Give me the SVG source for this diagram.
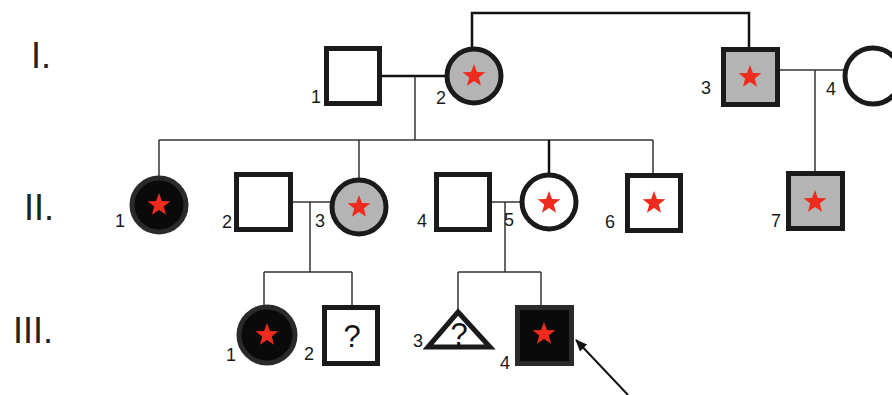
<svg xmlns="http://www.w3.org/2000/svg" xmlns:xlink="http://www.w3.org/1999/xlink" width="892" height="395" viewBox="0 0 892 395">
<style>
.node{stroke:#1a1a1a;stroke-width:5}
.white{fill:#fff}
.grey{fill:#b4b4b4}
.black{fill:#0a0a0a;stroke:#2a2a2a}
.star{fill:#ee2b1c}
.lbl{font-family:"Liberation Sans",Arial,sans-serif;font-size:18px;fill:#1a1a1a}
.gen{font-family:"Liberation Sans",Arial,sans-serif;font-size:36px;fill:#222}
.q{font-family:"Liberation Sans",Arial,sans-serif;font-size:31px;fill:#111;text-anchor:middle}
.ln{fill:none;stroke:#333;stroke-width:1.5}
.lnb{fill:none;stroke:#111;stroke-width:2.5}
</style>
<defs>
<path id="star" d="M0,-12 L2.94,-4.05 L11.41,-3.71 L4.77,1.55 L7.05,9.71 L0,5 L-7.05,9.71 L-4.77,1.55 L-11.41,-3.71 L-2.94,-4.05 Z"/>
<marker id="arr" markerWidth="12" markerHeight="10" refX="11" refY="5" orient="auto" markerUnits="userSpaceOnUse">
<path d="M0,0 L12,5 L0,10 Z" fill="#111"/>
</marker>
</defs>
<rect width="892" height="395" fill="#fff"/>
<g id="generations">
<text class="gen" x="31" y="68">I.</text>
<text class="gen" x="24" y="220">II.</text>
<text class="gen" x="13" y="343">III.</text>
</g>
<g id="connectors">
<path class="lnb" d="M472,48 V13 H749 V48"/>
<path class="lnb" d="M382,76 H446"/>
<path class="ln" d="M415,76 V140"/>
<path class="ln" d="M159,140 H653"/>
<path class="ln" d="M159,140 V176"/>
<path class="ln" d="M359,140 V178"/>
<path class="lnb" d="M549,140 V173"/>
<path class="ln" d="M653,140 V173"/>
<path class="ln" d="M780,70 H844"/>
<path class="ln" d="M815,70 V172"/>
<path class="ln" d="M293,202 H331"/>
<path class="ln" d="M310,202 V272"/>
<path class="ln" d="M264,272 H352"/>
<path class="ln" d="M264,272 V305"/>
<path class="ln" d="M352,272 V305"/>
<path class="ln" d="M492,202 H521"/>
<path class="ln" d="M505,202 V272"/>
<path class="ln" d="M458,272 H541"/>
<path class="ln" d="M458,272 V310"/>
<path class="ln" d="M541,272 V305"/>
<path d="M628,395 L576,340" stroke="#111" stroke-width="2" fill="none" marker-end="url(#arr)"/>
</g>
<g id="I1">
<rect class="node white" x="326.5" y="48.5" width="53" height="55"/>
<text class="lbl" x="311" y="103">1</text>
</g>
<g id="I2">
<circle class="node grey" cx="474" cy="76" r="27"/>
<use href="#star" class="star" x="474" y="76"/>
<text class="lbl" x="436" y="104">2</text>
</g>
<g id="I3">
<rect class="node grey" x="723.5" y="49.5" width="54" height="55"/>
<use href="#star" class="star" x="750" y="77"/>
<text class="lbl" x="701" y="94">3</text>
</g>
<g id="I4">
<circle class="node white" cx="873" cy="76" r="28"/>
<text class="lbl" x="826" y="95">4</text>
</g>
<g id="II1">
<circle class="node black" cx="159" cy="205" r="27"/>
<use href="#star" class="star" x="159" y="205"/>
<text class="lbl" x="115" y="227">1</text>
</g>
<g id="II2">
<rect class="node white" x="236.5" y="174.5" width="54" height="55"/>
<text class="lbl" x="222" y="228">2</text>
</g>
<g id="II3">
<circle class="node grey" cx="359" cy="207" r="27"/>
<use href="#star" class="star" x="359" y="207"/>
<text class="lbl" x="315" y="227">3</text>
</g>
<g id="II4">
<rect class="node white" x="436.5" y="174.5" width="53" height="55"/>
<text class="lbl" x="417" y="227">4</text>
</g>
<g id="II5">
<circle class="node white" cx="549" cy="202" r="27"/>
<use href="#star" class="star" x="549" y="203"/>
<text class="lbl" x="504" y="226">5</text>
</g>
<g id="II6">
<rect class="node white" x="627.5" y="175.5" width="53" height="55"/>
<use href="#star" class="star" x="654" y="203"/>
<text class="lbl" x="605" y="228">6</text>
</g>
<g id="II7">
<rect class="node grey" x="788.5" y="173.5" width="54" height="55"/>
<use href="#star" class="star" x="815" y="202"/>
<text class="lbl" x="771" y="227">7</text>
</g>
<g id="III1">
<circle class="node black" cx="267" cy="335" r="28"/>
<use href="#star" class="star" x="267" y="335"/>
<text class="lbl" x="226" y="361">1</text>
</g>
<g id="III2">
<rect class="node white" x="324.5" y="307.5" width="53" height="56"/>
<text class="q" x="352" y="347">?</text>
<text class="lbl" x="304" y="360">2</text>
</g>
<g id="III3">
<path class="node white" d="M458,312 L490,347 L428,347 Z"/>
<text class="q" x="459" y="345">?</text>
<text class="lbl" x="413" y="347">3</text>
</g>
<g id="III4">
<rect class="node black" x="517.5" y="307.5" width="54" height="56"/>
<use href="#star" class="star" x="544" y="334"/>
<text class="lbl" x="500" y="369">4</text>
</g>
</svg>
